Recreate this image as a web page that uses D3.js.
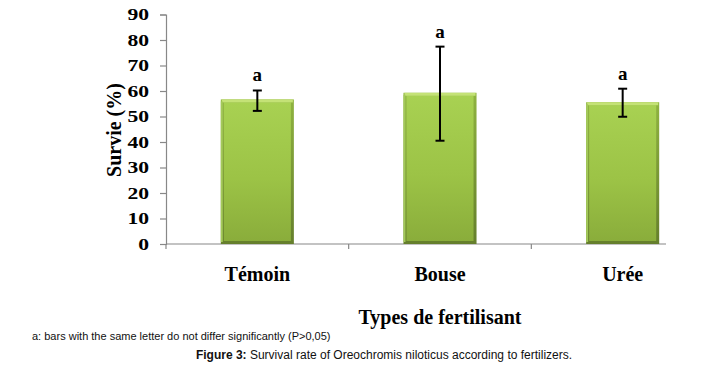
<!DOCTYPE html>
<html>
<head>
<meta charset="utf-8">
<script src="https://cdn.jsdelivr.net/npm/d3@7"></script>
<style>
  html, body { margin: 0; padding: 0; background: #fff; }
  svg { display: block; }
</style>
</head>
<body>
<svg id="chart" width="719" height="371"></svg>
<script>
// ---- data ----
const categories = ["Témoin", "Bouse", "Urée"];
const survival = [56.7, 59.3, 55.6];
const errLow = [52.2, 40.5, 49.9];
const errHigh = [60.2, 77.4, 60.9];
const letters = ["a", "a", "a"];
const yTicks = [0, 10, 20, 30, 40, 50, 60, 70, 80, 90];
const yTitle = "Survie (%)";
const xTitle = "Types de fertilisant";
const footnote = "a: bars with the same letter do not differ significantly (P>0,05)";
const captionBold = "Figure 3:";
const captionText = " Survival rate of Oreochromis niloticus according to fertilizers.";

const svg = d3.select("#chart");
const serif = "'Liberation Serif', 'Times New Roman', serif";
const sans = "'Liberation Sans', Arial, sans-serif";

const x = d3.scaleBand().domain(categories).range([166, 714]).paddingInner(0.6).paddingOuter(0.3);
const y = d3.scaleLinear().domain([0, 90]).range([244, 14.5]);

// gradients
const defs = svg.append("defs");
const gOuter = defs.append("linearGradient").attr("id", "gOuter").attr("x1", 0).attr("y1", 0).attr("x2", 0).attr("y2", 1);
gOuter.append("stop").attr("offset", "0%").attr("stop-color", "#8fb340");
gOuter.append("stop").attr("offset", "100%").attr("stop-color", "#657f2c");
const gInner = defs.append("linearGradient").attr("id", "gInner").attr("x1", 0).attr("y1", 0).attr("x2", 0).attr("y2", 1);
gInner.append("stop").attr("offset", "0%").attr("stop-color", "#a8d152");
gInner.append("stop").attr("offset", "55%").attr("stop-color", "#9cc346");
gInner.append("stop").attr("offset", "100%").attr("stop-color", "#8aad3b");

// y axis
const sx = 1.35;
const yAxis = d3.axisLeft(y).tickValues(yTicks).tickSize(6).tickFormat(d3.format("d"));
const ya = svg.append("g").attr("transform", "translate(166,0)").call(yAxis);
ya.select(".domain").attr("stroke", "#888").attr("stroke-width", 1.2);
ya.selectAll(".tick line").attr("stroke", "#888").attr("stroke-width", 1.2);
ya.selectAll(".tick text")
  .attr("font-family", serif).attr("font-weight", "bold").attr("font-size", 16)
  .attr("fill", "#000").attr("x", -17 / sx).attr("dy", "0.34em")
  .attr("transform", `scale(${sx},1)`);

// x axis line (band boundaries ticks)
const step = x.step();
const x0 = x(categories[0]) - x.paddingInner() * step / 2;
svg.append("line").attr("x1", x0).attr("x2", 666).attr("y1", y(0)).attr("y2", y(0))
  .attr("stroke", "#888").attr("stroke-width", 1.2);
const boundaries = [0, 1, 2].map(i => x0 + i * step);
svg.selectAll(".xtick").data(boundaries).enter().append("line")
  .attr("x1", d => d).attr("x2", d => d).attr("y1", y(0)).attr("y2", y(0) + 5)
  .attr("stroke", "#888").attr("stroke-width", 1.2);

// bars
const bars = svg.selectAll(".bar").data(categories).enter().append("g");
bars.append("rect")
  .attr("x", d => x(d)).attr("width", x.bandwidth())
  .attr("y", (d, i) => y(survival[i])).attr("height", (d, i) => y(0) - y(survival[i]))
  .attr("fill", "url(#gOuter)");
bars.append("rect")
  .attr("x", d => x(d) + 3).attr("width", x.bandwidth() - 6)
  .attr("y", (d, i) => y(survival[i]) + 3).attr("height", (d, i) => y(0) - y(survival[i]) - 6)
  .attr("fill", "url(#gInner)");
bars.append("rect")
  .attr("x", d => x(d) + 1).attr("width", x.bandwidth() - 2)
  .attr("y", (d, i) => y(survival[i])).attr("height", 3)
  .attr("fill", "#c4e276");
bars.append("rect")
  .attr("x", d => x(d)).attr("width", 2)
  .attr("y", (d, i) => y(survival[i]) + 2).attr("height", (d, i) => y(0) - y(survival[i]) - 4)
  .attr("fill", "#a4c95a");

// error bars
const cx = d => x(d) + x.bandwidth() / 2;
const eb = svg.selectAll(".err").data(categories).enter().append("g")
  .attr("stroke", "#000").attr("stroke-width", 2);
eb.append("line").attr("x1", cx).attr("x2", cx)
  .attr("y1", (d, i) => y(errLow[i])).attr("y2", (d, i) => y(errHigh[i]));
eb.append("line").attr("x1", d => cx(d) - 4.5).attr("x2", d => cx(d) + 4.5)
  .attr("y1", (d, i) => y(errLow[i])).attr("y2", (d, i) => y(errLow[i]));
eb.append("line").attr("x1", d => cx(d) - 4.5).attr("x2", d => cx(d) + 4.5)
  .attr("y1", (d, i) => y(errHigh[i])).attr("y2", (d, i) => y(errHigh[i]));

// letters
svg.selectAll(".letter").data(categories).enter().append("text")
  .attr("x", cx).attr("y", (d, i) => y(errHigh[i]) - 9)
  .attr("text-anchor", "middle")
  .attr("font-family", serif).attr("font-weight", "bold").attr("font-size", 19)
  .text((d, i) => letters[i]);

// category labels
svg.selectAll(".cat").data(categories).enter().append("text")
  .attr("x", cx).attr("y", 281)
  .attr("text-anchor", "middle")
  .attr("font-family", serif).attr("font-weight", "bold").attr("font-size", 20)
  .text(d => d);

// axis titles
svg.append("text").attr("x", cx(categories[1])).attr("y", 324)
  .attr("text-anchor", "middle")
  .attr("font-family", serif).attr("font-weight", "bold").attr("font-size", 20)
  .text(xTitle);
svg.append("text").attr("transform", "translate(121,130) rotate(-90)")
  .attr("text-anchor", "middle")
  .attr("font-family", serif).attr("font-weight", "bold").attr("font-size", 20)
  .text(yTitle);

// footnote and caption
svg.append("text").attr("x", 32).attr("y", 340)
  .attr("font-family", sans).attr("font-size", 11).attr("fill", "#111")
  .text(footnote);
const cap = svg.append("text").attr("x", 384).attr("y", 359).attr("text-anchor", "middle")
  .attr("font-family", sans).attr("font-size", 12).attr("fill", "#111");
cap.append("tspan").attr("font-weight", "bold").text(captionBold);
cap.append("tspan").text(captionText);
</script>
</body>
</html>
